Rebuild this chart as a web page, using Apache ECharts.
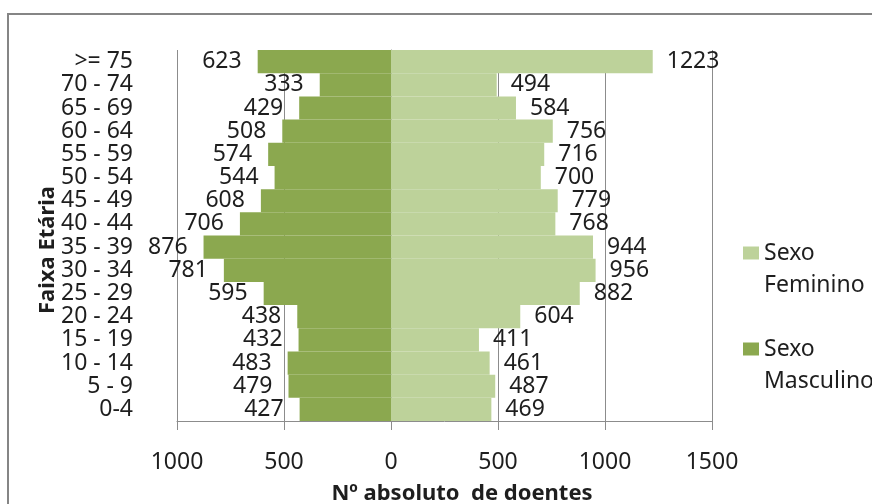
<!DOCTYPE html>
<html>
<head>
<meta charset="utf-8">
<title>Faixa Etária por Sexo</title>
<script src="https://cdn.jsdelivr.net/npm/echarts@6/dist/echarts.min.js"></script>
<style>
  html, body { margin: 0; padding: 0; background: #ffffff; }
  #chart { width: 872px; height: 504px; }
</style>
</head>
<body>
<div id="chart"></div>
<script>
// Age groups, bottom to top
const categories = ['0-4', '5 - 9', '10 - 14', '15 - 19', '20 - 24', '25 - 29', '30 - 34',
  '35 - 39', '40 - 44', '45 - 49', '50 - 54', '55 - 59', '60 - 64', '65 - 69', '70 - 74', '>= 75'];

// Number of patients per age group
const feminino = [469, 487, 461, 411, 604, 882, 956, 944, 768, 779, 700, 716, 756, 584, 494, 1223];
const masculino = [427, 479, 483, 432, 438, 595, 781, 876, 706, 608, 544, 574, 508, 429, 333, 623];

// Value axis ticks
const xTicks = { min: -1000, max: 1500, interval: 500 };

const FONT = '"Noto Sans", "Open Sans", sans-serif';
const TEXT = '#1e1e1e';
const LINE = '#8c8c8c';
const FS = 23;

const chart = echarts.init(document.getElementById('chart'), null, { renderer: 'canvas' });

chart.setOption({
  animation: false,
  backgroundColor: '#ffffff',
  textStyle: { fontFamily: FONT, color: TEXT },
  grid: { left: 177, right: 160, top: 50, bottom: 83, containLabel: false },
  legend: {
    orient: 'vertical',
    left: 743,
    top: 205,
    padding: 0,
    itemGap: 0,
    itemWidth: 16,
    itemHeight: 13,
    icon: 'rect',
    data: ['Sexo Feminino', 'Sexo Masculino'],
    // blank first line keeps "Sexo" level with the colour box
    formatter: name => '\n' + name.replace(' ', '\n'),
    textStyle: { fontFamily: FONT, fontSize: FS, color: TEXT, lineHeight: 32 }
  },
  xAxis: {
    type: 'value',
    min: xTicks.min,
    max: xTicks.max,
    interval: xTicks.interval,
    axisLine: { show: true, lineStyle: { color: LINE, width: 1 } },
    axisTick: { show: true, length: 9, lineStyle: { color: LINE } },
    splitLine: { show: true, lineStyle: { color: LINE, width: 1 } },
    axisLabel: {
      margin: 30,
      fontFamily: FONT, fontSize: FS, color: TEXT,
      formatter: v => String(Math.abs(v))
    }
  },
  yAxis: {
    type: 'category',
    data: categories,
    axisLine: { show: true, lineStyle: { color: LINE, width: 1 } },
    axisTick: { show: false },
    splitLine: { show: false },
    axisLabel: { margin: 44, fontFamily: FONT, fontSize: FS, color: TEXT, interval: 0 }
  },
  series: [
    {
      name: 'Sexo Masculino',
      type: 'bar',
      data: masculino.map(v => -v),
      barGap: '-100%',
      barCategoryGap: 0,
      itemStyle: { color: '#8ba84f' },
      label: {
        show: true, position: 'left', distance: 16,
        fontFamily: FONT, fontSize: FS, color: TEXT,
        formatter: p => String(Math.abs(p.value))
      }
    },
    {
      name: 'Sexo Feminino',
      type: 'bar',
      data: feminino,
      barGap: '-100%',
      barCategoryGap: 0,
      itemStyle: { color: '#bdd29a' },
      label: {
        show: true, position: 'right', distance: 14,
        fontFamily: FONT, fontSize: FS, color: TEXT
      }
    }
  ],
  graphic: [
    {
      type: 'rect', silent: true, z: -1,
      shape: { x: 8, y: 14, width: 900, height: 520 },
      style: { fill: null, stroke: '#858585', lineWidth: 2 }
    },
    {
      type: 'text', silent: true,
      x: 48, y: 250, rotation: Math.PI / 2,
      style: { text: 'Faixa Etária', fontFamily: FONT, fontSize: 22, fontWeight: 'bold',
        fill: TEXT, align: 'center', verticalAlign: 'middle' }
    },
    {
      type: 'text', silent: true,
      x: 462, y: 494,
      style: { text: 'Nº absoluto  de doentes', fontFamily: FONT, fontSize: 22, fontWeight: 'bold',
        fill: TEXT, align: 'center', verticalAlign: 'middle' }
    }
  ]
});
</script>
</body>
</html>
